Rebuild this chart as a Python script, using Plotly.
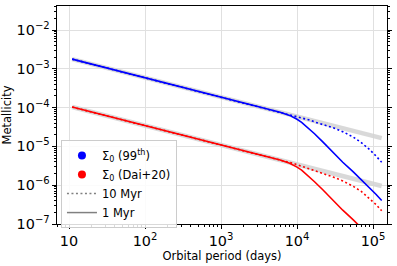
import plotly.graph_objects as go

# Orbital period grid (days)
period = [11, 30, 100, 300, 1000, 3000, 6000, 8000, 9000, 10000, 11500, 13000,
          15000, 17000, 22000, 30000, 40000, 55000, 70000, 90000, 110000, 130000]

# Sigma_0 (99th) - 1 Myr (solid) and 10 Myr (dotted)
blue_1myr = [1.78e-3, 1.08e-3, 5.92e-4, 3.42e-4, 1.87e-4, 1.08e-4, 7.62e-5, 6.31e-5,
             5.69e-5, 5.01e-5, 4.19e-5, 3.43e-5, 2.65e-5, 2.12e-5, 1.29e-5, 6.82e-6,
             3.90e-6, 2.20e-6, 1.41e-6, 8.61e-7, 5.78e-7, 4.03e-7]
blue_10myr = [1.78e-3, 1.08e-3, 5.92e-4, 3.42e-4, 1.87e-4, 1.08e-4, 7.62e-5, 6.61e-5,
              6.24e-5, 5.89e-5, 5.50e-5, 5.13e-5, 4.73e-5, 4.27e-5, 3.63e-5, 3.02e-5,
              2.40e-5, 1.74e-5, 1.26e-5, 8.32e-6, 5.62e-6, 3.89e-6]

# Sigma_0 (Dai+20)
red_1myr = [1.035e-4, 6.31e-5, 3.47e-5, 2.00e-5, 1.10e-5, 6.31e-6, 4.45e-6, 3.67e-6,
            3.31e-6, 2.92e-6, 2.44e-6, 2.00e-6, 1.54e-6, 1.23e-6, 7.51e-7, 3.97e-7,
            2.27e-7, 1.28e-7, 8.21e-8, 5.01e-8, 3.36e-8, 2.35e-8]
red_10myr = [1.035e-4, 6.31e-5, 3.47e-5, 2.00e-5, 1.10e-5, 6.31e-6, 4.45e-6, 3.85e-6,
             3.63e-6, 3.39e-6, 3.09e-6, 2.82e-6, 2.57e-6, 2.34e-6, 1.95e-6, 1.62e-6,
             1.29e-6, 9.33e-7, 6.92e-7, 4.57e-7, 3.16e-7, 2.19e-7]

# Grey power-law reference bands
band_period = [11, 130000]
band_blue = [1.78e-3, 1.64e-5]
band_red = [1.035e-4, 9.55e-7]

legend_labels = ["Σ<sub>0</sub> (99<sup>th</sup>)", "Σ<sub>0</sub> (Dai+20)", "10 Myr", "1 Myr"]

DOT = "2px,2.5px"
FONT = "DejaVu Sans"
fig = go.Figure()
for b in (band_blue, band_red):
    fig.add_trace(go.Scatter(x=band_period, y=b, mode="lines",
                             line=dict(color="rgba(210,210,210,0.85)", width=4.5),
                             showlegend=False, hoverinfo="skip"))
fig.add_trace(go.Scatter(x=period, y=blue_10myr, mode="lines",
                         line=dict(color="blue", width=1.6, dash=DOT), showlegend=False))
fig.add_trace(go.Scatter(x=period, y=red_10myr, mode="lines",
                         line=dict(color="red", width=1.6, dash=DOT), showlegend=False))
fig.add_trace(go.Scatter(x=period, y=blue_1myr, mode="lines",
                         line=dict(color="blue", width=1.6), showlegend=False))
fig.add_trace(go.Scatter(x=period, y=red_1myr, mode="lines",
                         line=dict(color="red", width=1.6), showlegend=False))

# legend entries
fig.add_trace(go.Scatter(x=[None], y=[None], mode="markers", name=legend_labels[0],
                         marker=dict(color="blue", size=8)))
fig.add_trace(go.Scatter(x=[None], y=[None], mode="markers", name=legend_labels[1],
                         marker=dict(color="red", size=8)))
fig.add_trace(go.Scatter(x=[None], y=[None], mode="lines", name=legend_labels[2],
                         line=dict(color="gray", width=1.5, dash=DOT)))
fig.add_trace(go.Scatter(x=[None], y=[None], mode="lines", name=legend_labels[3],
                         line=dict(color="gray", width=1.5)))

axis_common = dict(
    type="log", showline=True, linecolor="black", linewidth=1,
    ticks="outside", ticklen=4, tickcolor="black", tickwidth=1,
    showgrid=True, gridcolor="#e0e0e0", gridwidth=1,
    exponentformat="power", dtick=1, zeroline=False, automargin=False,
    tickfont=dict(size=11.5, color="black", family=FONT),
    minor=dict(ticks="outside", ticklen=2, tickcolor="black", showgrid=False),
)

fig.update_xaxes(**axis_common, range=[0.842, 5.184], mirror=True,
                 title=dict(text="Orbital period (days)", standoff=4,
                            font=dict(size=11.5, color="black", family=FONT)))
fig.update_yaxes(**axis_common, range=[-7, -1.38], mirror="allticks",
                 title=dict(text="Metallicity", standoff=7,
                            font=dict(size=11.5, color="black", family=FONT)))

fig.update_layout(
    width=397, height=266,
    margin=dict(l=57, r=10, t=6, b=42),
    plot_bgcolor="white", paper_bgcolor="white",
    font=dict(family=FONT, color="black"),
    legend=dict(x=0.012, y=0.385, xanchor="left", yanchor="top",
                bgcolor="rgba(255,255,255,0.85)", bordercolor="#cccccc", borderwidth=1,
                font=dict(size=11.5, color="black", family=FONT),
                tracegroupgap=0, itemwidth=30),
)

fig.write_html("out.html", config={"displayModeBar": False},
               post_script="document.body.style.margin='0';document.body.style.overflow='hidden';")
